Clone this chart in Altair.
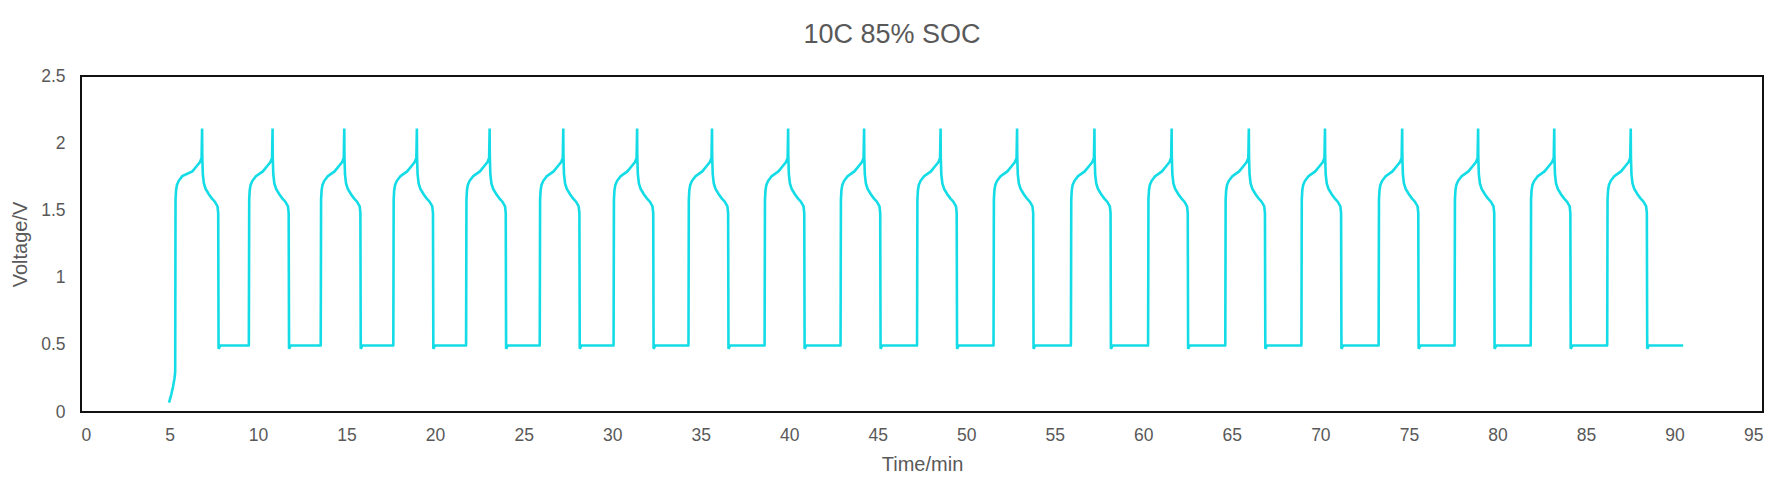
import altair as alt
import pandas as pd

title_text = "10C 85% SOC"
x_ticks = [0, 5, 10, 15, 20, 25, 30, 35, 40, 45, 50, 55, 60, 65, 70, 75, 80, 85, 90, 95]
y_ticks = [0, 0.5, 1, 1.5, 2, 2.5]

# initial ramp before the first charge step
start_t = [4.97, 5.10, 5.20, 5.28]
start_v = [0.07, 0.13, 0.19, 0.25]

# per-cycle key times (min)
rise_times = [5.32, 9.48, 13.54, 17.64, 21.75, 25.91, 30.08, 34.31, 38.61, 42.90,
              47.22, 51.54, 55.91, 60.27, 64.63, 68.93, 73.29, 77.58, 81.88, 86.20]
peak_times = [6.84, 10.82, 14.87, 18.97, 23.08, 27.24, 31.41, 35.64, 39.94, 44.23,
              48.55, 52.87, 57.24, 61.60, 65.96, 70.26, 74.62, 78.91, 83.21, 87.53]
drop_times = [7.77, 11.75, 15.80, 19.90, 24.01, 28.17, 32.34, 36.57, 40.87, 45.16,
              49.48, 53.80, 58.17, 62.53, 66.89, 71.19, 75.55, 79.84, 84.14, 88.46]
end_time = 90.5

# shape of one cycle
rise_dt = [0.00, 0.02, 0.05, 0.10, 0.20, 0.40]          # after rise
rise_v = [0.50, 1.58, 1.65, 1.69, 1.72, 1.755]
top_dt = [-0.55, -0.30, -0.12, -0.03, 0.00, 0.01, 0.04, 0.10, 0.20, 0.38, 0.55, 0.72]
top_v = [1.79, 1.83, 1.86, 1.89, 2.11, 1.90, 1.77, 1.70, 1.66, 1.62, 1.59, 1.565]
drop_dt = [-0.06, -0.02, 0.00, 0.04, 0.10]         # around drop
drop_v = [1.53, 1.48, 0.47, 0.48, 0.495]
rest_v = 0.50

rows = []
for t, v in zip(start_t, start_v):
    rows.append((t, v))
for k in range(len(peak_times)):
    r, p, d = rise_times[k], peak_times[k], drop_times[k]
    for dt, v in zip(rise_dt, rise_v):
        rows.append((r + dt, v if not (k == 0 and dt == 0) else 0.30))
    for dt, v in zip(top_dt, top_v):
        rows.append((p + dt, v))
    for dt, v in zip(drop_dt, drop_v):
        rows.append((d + dt, v))
    nxt = rise_times[k + 1] if k + 1 < len(rise_times) else end_time
    rows.append((nxt - 0.01, rest_v - 0.005))

df = pd.DataFrame(rows, columns=["t", "v"])
df["i"] = range(len(df))

FONT = "Liberation Sans"
GRAY = "#595959"

line = alt.Chart(df).mark_line(color="#14DCE6", strokeWidth=2.6, clip=True).encode(
    x=alt.X("t:Q",
            scale=alt.Scale(domain=[0, 95], nice=False, zero=False),
            axis=alt.Axis(values=x_ticks, title="Time/min", grid=False, domain=False,
                          ticks=False, tickSize=0, labelPadding=23, labelBaseline="middle",
                          labelFontSize=17.5, labelColor=GRAY, labelFont=FONT,
                          titleFontSize=20, titleColor=GRAY, titleFont=FONT,
                          titleFontWeight="normal", titleX=841, titleY=52,
                          titleBaseline="middle", format="d")),
    y=alt.Y("v:Q",
            scale=alt.Scale(domain=[0, 2.5], nice=False),
            axis=alt.Axis(values=y_ticks, title="Voltage/V", grid=False, domain=False,
                          ticks=False, tickSize=0, labelPadding=16,
                          labelFontSize=17.5, labelColor=GRAY, labelFont=FONT,
                          titleFontSize=20, titleColor=GRAY, titleFont=FONT,
                          titleFontWeight="normal", titleAngle=270, titleX=-61, titleY=168,
                          titleAlign="center", titleBaseline="middle", format=".1~f")),
    order="i:Q",
)

title = alt.Chart(pd.DataFrame({"label": [title_text]})).mark_text(
    font=FONT, fontSize=27, color=GRAY, align="center", baseline="alphabetic"
).encode(
    text="label:N",
    x=alt.value(811),
    y=alt.value(-33),
)

chart = alt.layer(line, title).properties(
    width=1682, height=336,
    autosize=alt.AutoSizeParams(type="none"),
    padding={"left": 73, "top": 68, "right": 5, "bottom": 70},
).configure_view(stroke="#111111", strokeWidth=2)

chart.save("out.html", embed_options={"renderer": "svg", "actions": False})
